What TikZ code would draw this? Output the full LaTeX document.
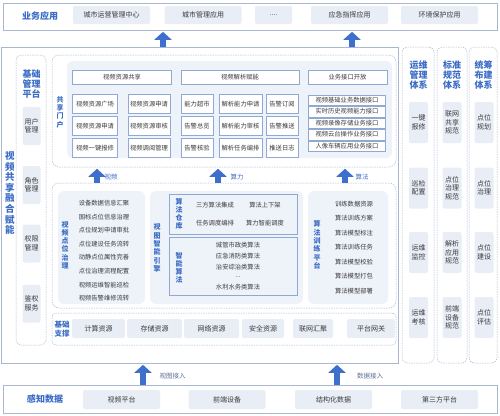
\documentclass[tikz,border=0pt]{standalone}
\usepackage{fontspec}
\setmainfont{Noto Sans CJK SC}
\usetikzlibrary{arrows.meta}
\definecolor{titleblue}{HTML}{3B6CC5}
\definecolor{itembg}{HTML}{E8EDF6}
\definecolor{panelbg}{HTML}{EEF2F9}
\definecolor{frameline}{HTML}{A9B8D0}
\definecolor{cellline}{HTML}{8FA8D4}
\definecolor{arrowblue}{HTML}{3F6FCC}
\definecolor{textgrey}{HTML}{3A3A3A}
\definecolor{labelgrey}{HTML}{5B6E94}
\newcommand{\moreapps}{....}
\newcommand{\morealgos}{...}

\begin{document}
\begin{tikzpicture}[x=1pt,y=-1pt,
  wh/.style 2 args={minimum width=#1pt,minimum height=#2pt,inner sep=0pt},
  frame/.style={draw=frameline,line width=0.6pt},
  dframe/.style={draw=frameline,dash pattern=on 1.5pt off 1pt,line width=0.5pt,rounded corners=5pt},
  panel/.style={fill=panelbg,rounded corners=6pt},
  item/.style={fill=itembg,rounded corners=2pt,text=textgrey,align=center,font=\fontsize{7}{8.5}\selectfont},
  cell/.style={draw=cellline,fill=white,line width=0.5pt,text=textgrey,font=\fontsize{6.3}{7}\selectfont},
  txt/.style={text=textgrey,font=\fontsize{6.3}{7}\selectfont},
  ttl/.style={text=titleblue,align=center,font=\fontsize{9}{10.3}\selectfont\bfseries},
  vttl/.style={text=titleblue,align=center,font=\fontsize{7}{8.3}\selectfont\bfseries},
  bigarrow/.style={draw=arrowblue,line width=6.5pt,shorten >=1.5pt,-{Triangle[width=17pt,length=8pt]}},
  alabel/.style={text=labelgrey,font=\fontsize{6.5}{7}\selectfont}]
  \useasboundingbox (0,0) rectangle (500,415);

  % business applications
  \node[frame,fill=white,wh={494}{27}] (app) at (250,16.5) {};
  \node[ttl] (appt) at (40,16) {业务应用};
  \foreach \n/\x/\w/\t in {a/111.5/77/城市运营管理中心,b/203/77/城市管理应用,c/273.5/37/\moreapps,d/349.5/77/应急指挥应用,e/439.5/77/环境保护应用}
    \node[item,wh={\w}{18}] (app\n) at (\x,15) {\t};

  % main platform
  \node[frame,wh={397}{316}] (main) at (199.5,205) {};
  \node[ttl,font=\fontsize{9.5}{10.6}\selectfont\bfseries] (maint) at (10,193) {视\\频\\共\\享\\融\\合\\赋\\能};

  % basic management
  \node[dframe,wh={30}{290}] (mgr) at (31,200) {};
  \node[ttl] (mgrt) at (31.5,84) {基础\\管理\\平台};
  \foreach \n/\y/\t in {1/126/用户\\管理,2/185/角色\\管理,3/243.5/权限\\管理,4/303.5/鉴权\\服务}
    \node[item,wh={18}{38}] (mgr\n) at (31.5,\y) {\t};

  % sharing portal
  \node[dframe,rounded corners=7pt,wh={344}{112}] (portal) at (224,111) {};
  \node[panel,wh={325}{97}] (portalbg) at (229.5,109.5) {};
  \node[vttl] (portalt) at (60,112) {共\\享\\门\\户};
  \node[cell,wh={99}{14}] (hda) at (122,77) {视频资源共享};
  \node[cell,wh={118}{14}] (hdb) at (240,77) {视频解析赋能};
  \node[cell,wh={79}{14}] (hdc) at (347.5,77) {业务接口开放};
  \foreach \n/\x/\y/\w/\t in {a1/95/104/45/视频资源广场,a2/95/126/45/视频资源申请,a3/95/148/45/视频一键报修,
      b1/149/104/42/视频资源申请,b2/149/126/42/视频资源审核,b3/149/148/42/视频调阅管理,
      c1/197/104/32/能力超市,c2/197/126/32/告警总览,c3/197/148/32/告警核验,
      d1/240.5/104/43/解析能力申请,d2/240.5/126/43/解析能力审核,d3/240.5/148/43/解析任务编排,
      e1/282/104/32/告警订阅,e2/282/126/32/告警推送,e3/282/148/32/推送日志}
    \node[cell,wh={\w}{19}] (pc\n) at (\x,\y) {\t};
  \foreach \n/\y/\t in {1/100/视频基础业务数据接口,2/111.5/实时历史视频能力接口,3/123/视频录像存储业务接口,4/134.5/视频云台操作业务接口,5/146/人像车辆应用业务接口}
    \node[cell,wh={77}{10.5}] (if\n) at (347,\y) {\t};

  % intelligent engine
  \node[dframe,rounded corners=7pt,wh={344}{125}] (engine) at (224,245.5) {};
  \node[panel,wh={87}{113}] (pointbg) at (101.5,247.5) {};
  \node[vttl] (pointt) at (65,245) {视\\频\\点\\位\\治\\理};
  \foreach \n/\y/\t in {1/203/设备数据信息汇聚,2/216.6/国标点位信息治理,3/230.2/点位规划申请审批,4/243.8/点位建设任务流转,
      5/257.4/动静点位属性完善,6/271/点位治理流程配置,7/284.6/视频运维智能巡检,8/298/视频告警维修流转}
    \node[txt] (pt\n) at (104,\y) {\t};
  \node[panel,wh={153}{113}] (enginebg) at (226.5,247.5) {};
  \node[vttl] (enginet) at (157,248) {视\\图\\智\\能\\引\\擎};
  \node[draw=cellline,line width=0.5pt,wh={128}{40}] (store) at (233,214) {};
  \node[vttl,font=\fontsize{7}{8}\selectfont\bfseries] (storet) at (179,214) {算\\法\\仓\\库};
  \node[txt] (st1) at (215,205) {三方算法集成};
  \node[txt] (st2) at (265,205) {算法上下架};
  \node[txt] (st3) at (215,223) {任务调度编排};
  \node[txt] (st4) at (265,223) {算力智能调度};
  \node[draw=cellline,line width=0.5pt,wh={128}{58}] (algo) at (233,266) {};
  \node[vttl,font=\fontsize{7}{8}\selectfont\bfseries] (algot) at (179,268) {智\\能\\算\\法};
  \foreach \n/\y/\t in {1/245/城管市政类算法,2/256.5/应急消防类算法,3/267.5/治安综治类算法,4/277/\morealgos,5/287/水利水务类算法}
    \node[txt] (al\n) at (238,\y) {\t};
  \node[panel,wh={80}{113}] (trainbg) at (348,247.5) {};
  \node[vttl] (traint) at (317,245) {算\\法\\训\\练\\平\\台};
  \foreach \n/\y/\t in {1/204/训练数据资源,2/218.5/算法训练方案,3/233/算法模型标注,4/247.5/算法训练任务,5/262/算法模型校验,6/276.5/算法模型打包,7/291/算法模型部署}
    \node[txt] (tr\n) at (354,\y) {\t};

  % basic support
  \node[dframe,rounded corners=4pt,wh={344}{32}] (base) at (224,329) {};
  \node[vttl,font=\fontsize{7.5}{8.5}\selectfont\bfseries] (baset) at (62,329) {基础\\支撑};
  \foreach \n/\x/\w/\t in {1/98.5/53/计算资源,2/154.5/55/存储资源,3/211.5/55/网络资源,4/263/42/安全资源,5/313/40/联网汇聚,6/371/48/平台网关}
    \node[item,wh={\w}{19}] (bs\n) at (\x,328.5) {\t};

  % right columns
  \node[dframe,wh={32}{316}] (ops) at (418,205) {};
  \node[dframe,wh={30}{316}] (std) at (452,205) {};
  \node[dframe,wh={28}{316}] (plan) at (483,205) {};
  \node[ttl] (opst) at (418.5,75) {运维\\管理\\体系};
  \node[ttl] (stdt) at (452,75) {标准\\规范\\体系};
  \node[ttl] (plant) at (483.5,75) {统筹\\布建\\体系};
  \foreach \n/\y/\ta/\tb/\tc in {1/122.5/一键\\报修/联网\\共享\\规范/点位\\规划,2/188/巡检\\配置/点位\\治理\\规范/点位\\治理,
      3/252.5/运维\\监控/解析\\应用\\规范/点位\\建设,4/317.5/运维\\考核/前端\\设备\\规范/点位\\评估} {
    \node[item,wh={19}{41}] (ops\n) at (418.5,\y) {\ta};
    \node[item,wh={19}{41}] (std\n) at (452,\y) {\tb};
    \node[item,wh={19}{41}] (plan\n) at (484,\y) {\tc};
  }

  % sensing data
  \node[frame,fill=white,wh={494}{28}] (src) at (250,399) {};
  \node[ttl] (srct) at (45,399) {感知数据};
  \foreach \n/\x/\t in {a/121.5/视频平台,b/227/前端设备,c/333.5/结构化数据,d/439.5/第三方平台}
    \node[item,wh={77}{19}] (src\n) at (\x,399.5) {\t};

  % flows
  \coordinate (up1) at (163,0);
  \coordinate (up2) at (352,0);
  \coordinate (in1) at (143,0);
  \coordinate (in2) at (337,0);
  \coordinate (ar1) at (97,0);
  \coordinate (ar2) at (218,0);
  \coordinate (ar3) at (345,0);
  \draw[bigarrow] (main.north -| up1) -- (app.south -| up1);
  \draw[bigarrow] (main.north -| up2) -- (app.south -| up2);
  \draw[bigarrow] (src.north -| in1) -- (main.south -| in1);
  \draw[bigarrow] (src.north -| in2) -- (main.south -| in2);
  \draw[bigarrow] (engine.north -| ar1) -- (portal.south -| ar1);
  \draw[bigarrow] (engine.north -| ar2) -- (portal.south -| ar2);
  \draw[bigarrow] (engine.north -| ar3) -- (portal.south -| ar3);
  \node[alabel] (inl1) at (172.5,376) {视图接入};
  \node[alabel] (inl2) at (370,376) {数据接入};
  \node[alabel,text=titleblue] (arl1) at (111,177) {视频};
  \node[alabel,text=titleblue] (arl2) at (237,177) {算力};
  \node[alabel,text=titleblue] (arl3) at (362,177) {算法};
\end{tikzpicture}
\end{document}
